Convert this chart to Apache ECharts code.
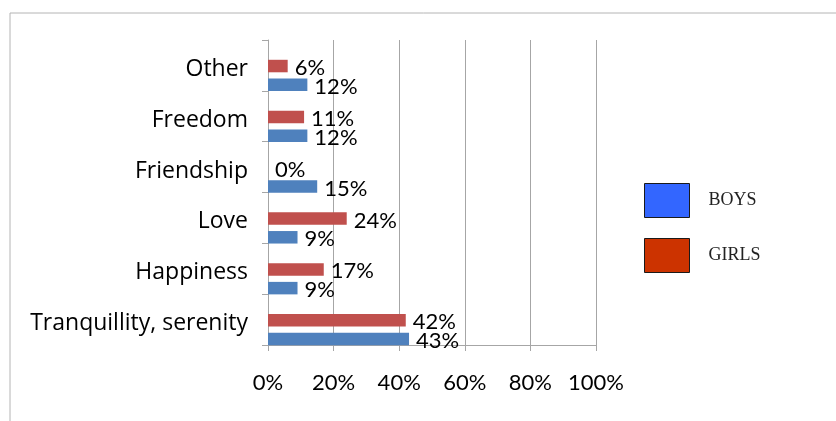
<!DOCTYPE html>
<html>
<head>
<meta charset="utf-8">
<script src="https://cdn.jsdelivr.net/npm/echarts@6/dist/echarts.min.js"></script>
<style>
  html, body { margin: 0; padding: 0; background: #fff; }
  #main { width: 836px; height: 421px; }
</style>
</head>
<body>
<div id="main"></div>
<script>
// categories bottom -> top (category axis starts at the bottom)
var categories = ['Tranquillity, serenity', 'Happiness', 'Love', 'Friendship', 'Freedom', 'Other'];
var boys = [43, 9, 9, 15, 12, 12];
var girls = [42, 17, 24, 0, 11, 6];
var xTicks = [0, 20, 40, 60, 80, 100];

var font = 'Lato, "Open Sans", sans-serif';
var catFont = '"Open Sans", Lato, sans-serif';

var myChart = echarts.init(document.getElementById('main'));

var labelStyle = {
  show: true,
  position: 'right',
  distance: 7,
  offset: [0, 2],
  formatter: '{c}%',
  fontFamily: font,
  fontSize: 22,
  color: '#000'
};

myChart.setOption({
  animation: false,
  graphic: [{
    type: 'rect',
    shape: { x: 10, y: 13, width: 900, height: 500 },
    style: { fill: 'none', stroke: '#b4b4b4', lineWidth: 1 },
    silent: true
  }],
  legend: {
    orient: 'vertical',
    left: 644,
    top: 183,
    padding: 0,
    icon: 'rect',
    itemWidth: 45,
    itemHeight: 34,
    itemGap: 20,
    selectedMode: false,
    textStyle: {
      fontFamily: '"Liberation Serif", serif',
      fontSize: 18,
      color: '#222',
      padding: [0, 0, 0, 14]
    },
    data: [
      { name: 'BOYS', itemStyle: { color: '#3366FF', borderColor: '#1a1a1a', borderWidth: 1 } },
      { name: 'GIRLS', itemStyle: { color: '#CC3300', borderColor: '#1a1a1a', borderWidth: 1 } }
    ]
  },
  grid: [
    // axes and gridlines
    { left: 268, right: 240, top: 40, bottom: 76 },
    // bars sit a little lower in each band, like the original
    { left: 268, right: 240, top: 50, bottom: 66 },
    // category names, a few px below the band centres
    { left: 268, right: 240, top: 44, bottom: 72 }
  ],
  xAxis: [{
    gridIndex: 0,
    type: 'value',
    min: xTicks[0],
    max: xTicks[xTicks.length - 1],
    interval: 20,
    axisLine: { show: true, lineStyle: { color: '#a6a6a6', width: 1 } },
    axisTick: { show: true, length: 6, lineStyle: { color: '#a6a6a6' } },
    splitLine: { show: true, lineStyle: { color: '#a6a6a6', width: 1 } },
    axisLabel: {
      margin: 27,
      formatter: '{value}%',
      fontFamily: font,
      fontSize: 22,
      color: '#000'
    }
  }, {
    gridIndex: 1,
    type: 'value',
    min: 0,
    max: 100,
    show: false
  }, {
    gridIndex: 2,
    type: 'value',
    min: 0,
    max: 100,
    show: false
  }],
  yAxis: [{
    gridIndex: 0,
    type: 'category',
    data: categories,
    axisLine: { show: true, lineStyle: { color: '#a6a6a6', width: 1 } },
    axisTick: { show: true, length: 6, lineStyle: { color: '#a6a6a6' } },
    axisLabel: { show: false }
  }, {
    gridIndex: 1,
    type: 'category',
    data: categories,
    show: false
  }, {
    gridIndex: 2,
    type: 'category',
    data: categories,
    axisLine: { show: false },
    axisTick: { show: false },
    axisLabel: {
      margin: 20,
      fontFamily: catFont,
      fontSize: 23,
      color: '#000'
    }
  }],
  // girls first so that it lands on top within each band
  series: [{
    name: 'GIRLS',
    type: 'bar',
    xAxisIndex: 1,
    yAxisIndex: 1,
    barWidth: 12.5,
    barGap: '50%',
    itemStyle: { color: '#C0504D' },
    label: labelStyle,
    data: girls
  }, {
    name: 'BOYS',
    type: 'bar',
    xAxisIndex: 1,
    yAxisIndex: 1,
    barWidth: 12.5,
    barGap: '50%',
    itemStyle: { color: '#4F81BD' },
    label: labelStyle,
    data: boys
  }]
});
</script>
</body>
</html>
